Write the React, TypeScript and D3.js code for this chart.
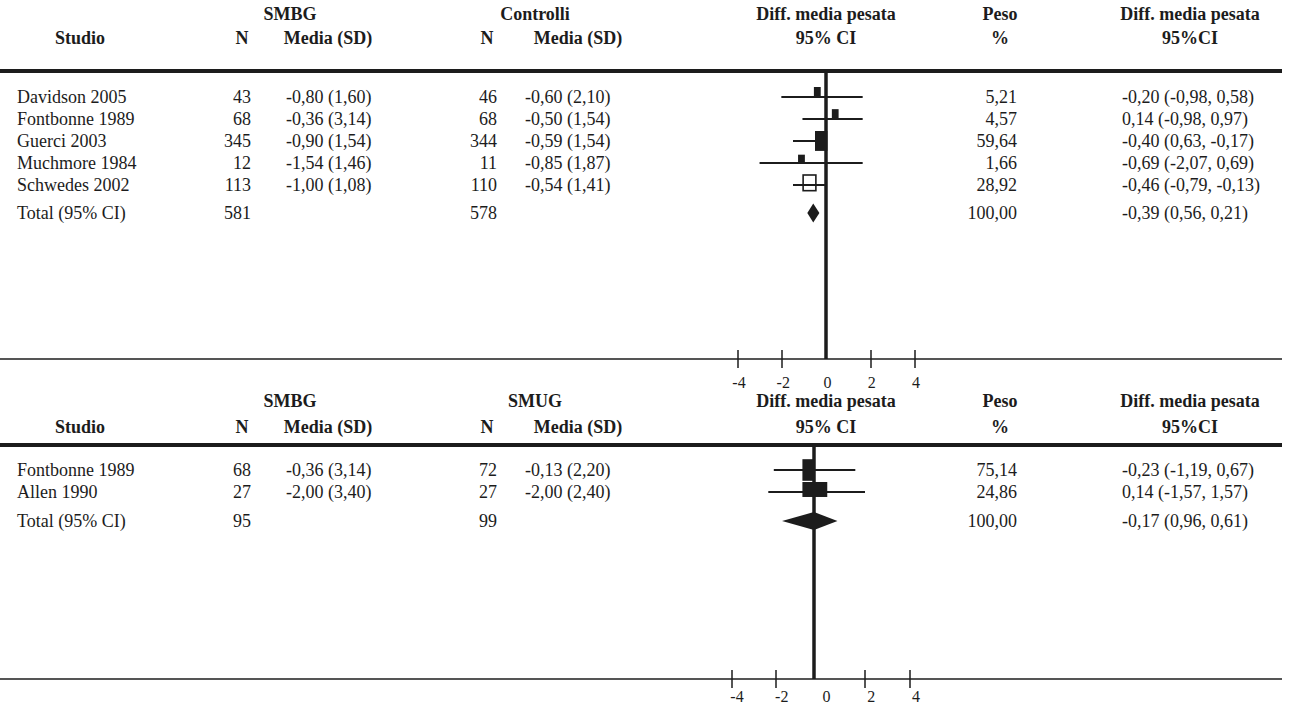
import * as d3 from 'd3';
import React from 'react';

// ---- Panel 1: SMBG vs Controlli ----
const studies1 = ['Davidson 2005', 'Fontbonne 1989', 'Guerci 2003', 'Muchmore 1984', 'Schwedes 2002'];
const nSmbg1 = ['43', '68', '345', '12', '113'];
const mediaSmbg1 = ['-0,80 (1,60)', '-0,36 (3,14)', '-0,90 (1,54)', '-1,54 (1,46)', '-1,00 (1,08)'];
const nCtrl1 = ['46', '68', '344', '11', '110'];
const mediaCtrl1 = ['-0,60 (2,10)', '-0,50 (1,54)', '-0,59 (1,54)', '-0,85 (1,87)', '-0,54 (1,41)'];
const peso1 = ['5,21', '4,57', '59,64', '1,66', '28,92'];
const wmd1 = ['-0,20 (-0,98, 0,58)', '0,14 (-0,98, 0,97)', '-0,40 (0,63, -0,17)', '-0,69 (-2,07, 0,69)', '-0,46 (-0,79, -0,13)'];
// plotted marks as drawn in the figure (axis units)
const ciLo1 = [-2.03, -1.07, -1.5, -3.02, -1.5];
const ciHi1 = [1.63, 1.63, -0.5, 1.63, -0.05];
const boxLo1 = [-0.55, 0.26, -0.5, -1.27, -1.04];
const boxHi1 = [-0.24, 0.56, 0.06, -0.96, -0.46];
const hollow1 = [false, false, false, false, true];
const total1 = { n1: '581', n2: '578', peso: '100,00', wmd: '-0,39 (0,56, 0,21)', lo: -0.85, mid: -0.58, hi: -0.3 };

// ---- Panel 2: SMBG vs SMUG ----
const studies2 = ['Fontbonne 1989', 'Allen 1990'];
const nSmbg2 = ['68', '27'];
const mediaSmbg2 = ['-0,36 (3,14)', '-2,00 (3,40)'];
const nSmug2 = ['72', '27'];
const mediaSmug2 = ['-0,13 (2,20)', '-2,00 (2,40)'];
const peso2 = ['75,14', '24,86'];
const wmd2 = ['-0,23 (-1,19, 0,67)', '0,14 (-1,57, 1,57)'];
const ciLo2 = [-2.1, -2.35];
const ciHi2 = [1.62, 2.0];
const boxLo2 = [-0.61, -0.61];
const boxHi2 = [0, 0.52];
const hollow2 = [false, false];
const total2 = { n1: '95', n2: '99', peso: '100,00', wmd: '-0,17 (0,96, 0,61)', lo: -1.68, mid: 0, hi: 0.92 };

const axisTicks = [-4, -2, 2, 4];
const axisLabels = [-4, -2, 0, 2, 4];

const W = 1293;
const H = 706;
const font = '"Liberation Serif", "Times New Roman", serif';
const ink = '#1c1c1c';

const toNum = (s: string) => +s.replace(',', '.');
const boxH = d3.scaleSqrt().domain([0, 100]).range([6, 24]);

type PanelProps = {
  group2: string;
  studies: string[];
  n1: string[]; m1: string[]; n2: string[]; m2: string[];
  peso: string[]; wmd: string[];
  ciLo: number[]; ciHi: number[]; boxLo: number[]; boxHi: number[]; hollow: boolean[];
  total: typeof total1;
  x: d3.ScaleLinear<number, number>;
  xLab: d3.ScaleLinear<number, number>;
  h1Y: number; h2Y: number; lineY: number; firstRow: number; totalGap: number;
  axisY: number; labelY: number; diamondH: number;
};

function Panel(p: PanelProps) {
  const rowY = (i: number) => p.firstRow + i * 22;
  const totY = rowY(p.studies.length - 1) + p.totalGap;
  const hdr = { fontFamily: font, fontWeight: 700, fontSize: 18, fill: ink, textAnchor: 'middle' as const, dominantBaseline: 'central' as const };
  const txt = { fontFamily: font, fontSize: 18, fill: ink, dominantBaseline: 'central' as const };
  const zero = p.x(0);

  const row = (y: number, name: string, a: string, b: string, c: string, d: string, e: string, f: string) => (
    <g key={name + y}>
      <text {...txt} x={17} y={y}>{name}</text>
      <text {...txt} x={251} y={y} textAnchor="end">{a}</text>
      <text {...txt} x={286} y={y}>{b}</text>
      <text {...txt} x={497} y={y} textAnchor="end">{c}</text>
      <text {...txt} x={525} y={y}>{d}</text>
      <text {...txt} x={1017} y={y} textAnchor="end">{e}</text>
      <text {...txt} x={1122} y={y}>{f}</text>
    </g>
  );

  const dh = p.diamondH;
  const diamond: [number, number][] = [
    [p.x(p.total.lo), totY], [p.x(p.total.mid), totY - dh / 2],
    [p.x(p.total.hi), totY], [p.x(p.total.mid), totY + dh / 2],
  ];

  return (
    <g>
      {/* headers */}
      <text {...hdr} x={290} y={p.h1Y}>SMBG</text>
      <text {...hdr} x={535} y={p.h1Y}>{p.group2}</text>
      <text {...hdr} x={826} y={p.h1Y}>Diff. media pesata</text>
      <text {...hdr} x={1000} y={p.h1Y}>Peso</text>
      <text {...hdr} x={1190} y={p.h1Y}>Diff. media pesata</text>
      <text {...hdr} x={80} y={p.h2Y}>Studio</text>
      <text {...hdr} x={242} y={p.h2Y}>N</text>
      <text {...hdr} x={328} y={p.h2Y}>Media (SD)</text>
      <text {...hdr} x={487} y={p.h2Y}>N</text>
      <text {...hdr} x={578} y={p.h2Y}>Media (SD)</text>
      <text {...hdr} x={826} y={p.h2Y}>95% CI</text>
      <text {...hdr} x={1000} y={p.h2Y}>%</text>
      <text {...hdr} x={1190} y={p.h2Y}>95%CI</text>
      <line x1={0} x2={1282} y1={p.lineY} y2={p.lineY} stroke={ink} strokeWidth={4} />

      {/* rows */}
      {p.studies.map((s, i) => row(rowY(i), s, p.n1[i], p.m1[i], p.n2[i], p.m2[i], p.peso[i], p.wmd[i]))}
      {row(totY, 'Total (95% CI)', p.total.n1, '', p.total.n2, '', p.total.peso, p.total.wmd)}

      {/* reference line */}
      <line x1={zero} x2={zero} y1={p.lineY} y2={p.axisY} stroke={ink} strokeWidth={3.5} />

      {/* study marks */}
      {p.studies.map((s, i) => {
        const y = rowY(i);
        const h = boxH(toNum(p.peso[i]));
        const bottom = y + Math.min(Math.max(h - 10, 0), h / 2);
        const bx0 = p.x(p.boxLo[i]);
        const bx1 = p.x(p.boxHi[i]);
        return (
          <g key={'m' + s}>
            <line x1={p.x(p.ciLo[i])} x2={p.x(p.ciHi[i])} y1={y} y2={y} stroke={ink} strokeWidth={2} />
            <rect x={bx0} y={bottom - h} width={bx1 - bx0} height={h}
              fill={p.hollow[i] ? 'none' : ink} stroke={ink} strokeWidth={p.hollow[i] ? 1.6 : 0} />
          </g>
        );
      })}

      {/* pooled diamond */}
      <path d={d3.line()(diamond) + 'Z'} fill={ink} />

      {/* axis */}
      <line x1={0} x2={1282} y1={p.axisY} y2={p.axisY} stroke={ink} strokeWidth={1.5} />
      {axisTicks.map((t) => (
        <line key={'t' + t} x1={p.x(t)} x2={p.x(t)} y1={p.axisY - 9} y2={p.axisY + 9} stroke={ink} strokeWidth={1.5} />
      ))}
      {axisLabels.map((t) => (
        <text key={'l' + t} x={p.xLab(t)} y={p.labelY} fontFamily={font} fontSize={16} fill={ink}
          textAnchor="middle" dominantBaseline="central">{t}</text>
      ))}
    </g>
  );
}

export default function App() {
  const x1 = d3.scaleLinear().domain([-4, -2, 0, 2, 4]).range([738, 782, 826, 871, 915]);
  const xl1 = d3.scaleLinear().domain([-4, 4]).range([739, 916]);
  const x2 = d3.scaleLinear().domain([-4, -2, 0, 2, 4]).range([732, 776, 814, 865, 910]);
  const xl2 = d3.scaleLinear().domain([-4, 4]).range([737, 916]);

  return (
    <svg width={W} height={H} style={{ position: 'absolute', left: 0, top: 0, background: 'white' }}>
      <Panel group2="Controlli" studies={studies1} n1={nSmbg1} m1={mediaSmbg1} n2={nCtrl1} m2={mediaCtrl1}
        peso={peso1} wmd={wmd1} ciLo={ciLo1} ciHi={ciHi1} boxLo={boxLo1} boxHi={boxHi1} hollow={hollow1}
        total={total1} x={x1} xLab={xl1} h1Y={14} h2Y={38} lineY={71} firstRow={97} totalGap={28}
        axisY={359} labelY={382} diamondH={19} />
      <Panel group2="SMUG" studies={studies2} n1={nSmbg2} m1={mediaSmbg2} n2={nSmug2} m2={mediaSmug2}
        peso={peso2} wmd={wmd2} ciLo={ciLo2} ciHi={ciHi2} boxLo={boxLo2} boxHi={boxHi2} hollow={hollow2}
        total={total2} x={x2} xLab={xl2} h1Y={401} h2Y={427} lineY={445} firstRow={470} totalGap={29}
        axisY={679} labelY={696} diamondH={18} />
    </svg>
  );
}
